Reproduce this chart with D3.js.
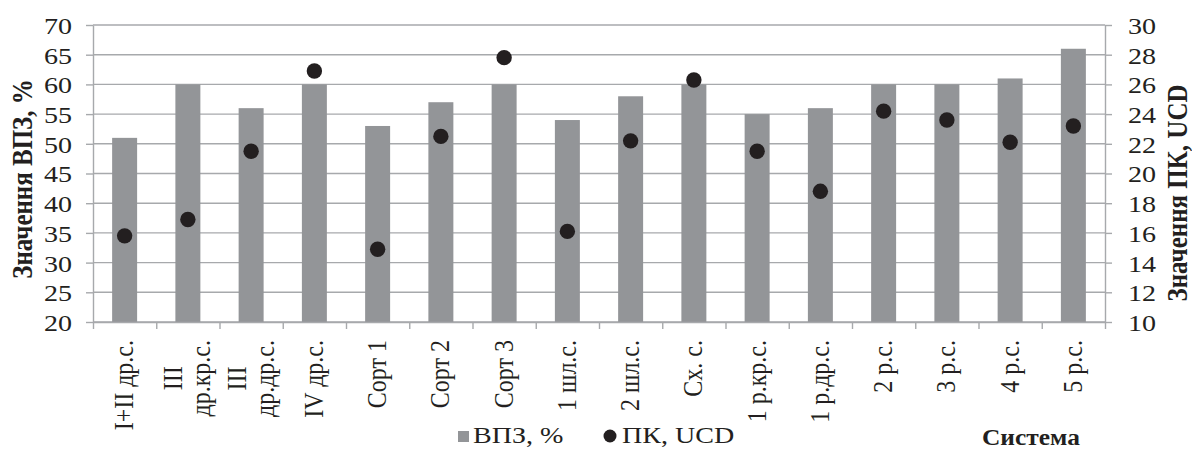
<!DOCTYPE html>
<html>
<head>
<meta charset="utf-8">
<script src="https://cdn.jsdelivr.net/npm/d3@7"></script>
<style>
  html, body { margin: 0; padding: 0; background: #fff; }
  svg { display: block; }
  text { font-family: "Liberation Serif", "Times New Roman", serif; fill: #231f20; }
</style>
</head>
<body>
<svg id="chart" width="1192" height="450"></svg>
<script>
// Categories (line breaks mark wrapped labels)
const categories = ["I+II др.с.", "III\nдр.кр.с.", "III\nдр.др.с.", "IV др.с.", "Сорт 1", "Сорт 2", "Сорт 3",
  "1 шл.с.", "2 шл.с.", "Сх. с.", "1 р.кр.с.", "1 р.др.с.", "2 р.с.", "3 р.с.", "4 р.с.", "5 р.с."];
// ВПЗ, % (bars, left axis)
const vpzValues = [51, 60, 56, 60, 53, 57, 60, 54, 58, 60, 55, 56, 60, 60, 61, 66];
// ПК, UCD (points, right axis)
const pkValues = [15.8, 16.9, 21.5, 26.9, 14.9, 22.5, 27.8, 16.1, 22.2, 26.3, 21.5, 18.8, 24.2, 23.6, 22.1, 23.2];
const leftTicks = [20, 25, 30, 35, 40, 45, 50, 55, 60, 65, 70];
const rightTicks = [10, 12, 14, 16, 18, 20, 22, 24, 26, 28, 30];
const leftTitle = "Значення ВПЗ, %";
const rightTitle = "Значення ПК, UCD";
const xTitle = "Система";
const legendBars = "ВПЗ, %";
const legendPoints = "ПК, UCD";

const SX = 1.17;            // horizontal glyph stretch
const FS = 24;              // base font size
const gridColor = "#a7a9ac";
const barColor = "#939598";
const dotColor = "#231f20";

const svg = d3.select("#chart");
const plot = { left: 93, right: 1105, top: 25, bottom: 322 };

const x = d3.scaleBand().domain(categories).range([plot.left, plot.right])
  .paddingInner(0.605).paddingOuter(0.3025);
const yL = d3.scaleLinear().domain([20, 70]).range([plot.bottom, plot.top]);
const yR = d3.scaleLinear().domain([10, 30]).range([plot.bottom, plot.top]);
const xEdges = d3.scaleLinear().domain([0, categories.length]).range([plot.left, plot.right]);

// horizontal gridlines
svg.append("g").selectAll("line").data(leftTicks).join("line")
  .attr("x1", plot.left).attr("x2", plot.right)
  .attr("y1", d => yL(d)).attr("y2", d => yL(d))
  .attr("stroke", gridColor).attr("stroke-width", 1.4);

// bars
svg.append("g").selectAll("rect").data(vpzValues).join("rect")
  .attr("x", (d, i) => x(categories[i]))
  .attr("width", x.bandwidth())
  .attr("y", d => yL(d))
  .attr("height", d => yL(20) - yL(d))
  .attr("fill", barColor);

function styleAxis(g) {
  g.select(".domain").attr("stroke", gridColor).attr("stroke-width", 1.4);
  g.selectAll(".tick line").attr("stroke", gridColor).attr("stroke-width", 1.4);
}

// left axis
const gL = svg.append("g").attr("transform", `translate(${plot.left},0)`)
  .call(d3.axisLeft(yL).tickValues(leftTicks).tickSize(7).tickSizeOuter(0));
styleAxis(gL);
gL.selectAll(".tick text")
  .attr("x", null).attr("dy", "0.35em")
  .attr("transform", `translate(-21,0) scale(${SX},1)`)
  .attr("text-anchor", "end")
  .attr("font-family", null)
  .attr("font-size", FS).attr("fill", dotColor);

// right axis
const gR = svg.append("g").attr("transform", `translate(${plot.right},0)`)
  .call(d3.axisRight(yR).tickValues(rightTicks).tickSize(7).tickSizeOuter(0));
styleAxis(gR);
gR.selectAll(".tick text")
  .attr("x", null).attr("dy", "0.35em")
  .attr("transform", `translate(23,0) scale(${SX},1)`)
  .attr("text-anchor", "start")
  .attr("font-family", null)
  .attr("font-size", FS).attr("fill", dotColor);

// bottom axis, ticks between categories
const gB = svg.append("g").attr("transform", `translate(0,${plot.bottom})`)
  .call(d3.axisBottom(xEdges).tickValues(d3.range(0, categories.length + 1)).tickSize(7)
    .tickSizeOuter(0).tickFormat(""));
styleAxis(gB);

// category labels, rotated, wrapped lines centred within their block
const labelTop = 340;
const lineGap = FS * SX;
categories.forEach((c, i) => {
  const lines = c.split("\n");
  const cx = x(c) + x.bandwidth() / 2;
  const g = svg.append("g");
  const texts = lines.map((ln, k) => {
    const off = (k - (lines.length - 1) / 2) * lineGap;
    return g.append("text")
      .attr("font-size", FS)
      .attr("text-anchor", "middle")
      .attr("dy", "0.3em")
      .datum(off)
      .text(ln);
  });
  const maxLen = d3.max(texts, t => t.node().getComputedTextLength());
  texts.forEach(t => {
    t.attr("transform", `translate(${cx + t.datum()},${labelTop + maxLen / 2}) scale(${SX},1) rotate(-90)`);
  });
});

// points
svg.append("g").selectAll("circle").data(pkValues).join("circle")
  .attr("cx", (d, i) => x(categories[i]) + x.bandwidth() / 2)
  .attr("cy", d => yR(d))
  .attr("r", 7.7)
  .attr("fill", dotColor);

// axis titles
svg.append("text").attr("font-size", 25).attr("font-weight", "bold")
  .attr("text-anchor", "middle").attr("dy", "0.3em")
  .attr("transform", `translate(23,179) scale(${SX},1) rotate(-90)`)
  .text(leftTitle);
svg.append("text").attr("font-size", 25).attr("font-weight", "bold")
  .attr("text-anchor", "middle").attr("dy", "0.3em")
  .attr("transform", `translate(1178,193) scale(${SX},1) rotate(-90)`)
  .text(rightTitle);
svg.append("text").attr("font-size", FS).attr("font-weight", "bold")
  .attr("text-anchor", "start")
  .attr("transform", `translate(982,445) scale(1.06,1)`)
  .text(xTitle);

// legend
svg.append("rect").attr("x", 458).attr("y", 431).attr("width", 11).attr("height", 11).attr("fill", barColor);
svg.append("text").attr("font-size", FS)
  .attr("transform", `translate(473,443) scale(${SX},1)`).text(legendBars);
svg.append("circle").attr("cx", 610).attr("cy", 436).attr("r", 6.5).attr("fill", dotColor);
svg.append("text").attr("font-size", FS)
  .attr("transform", `translate(622,443) scale(${SX},1)`).text(legendPoints);
</script>
</body>
</html>
